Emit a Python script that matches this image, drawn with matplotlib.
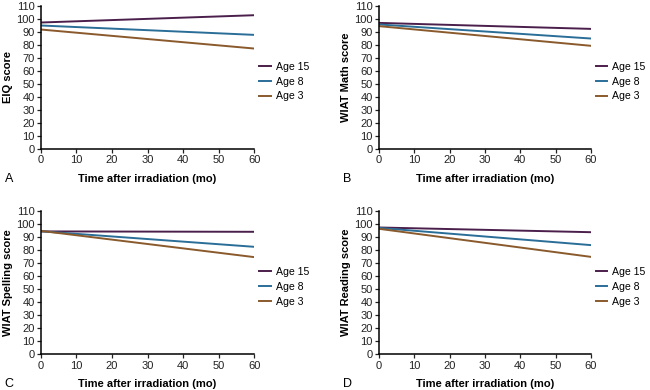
import matplotlib
matplotlib.use("Agg")
import matplotlib.pyplot as plt

plt.rcParams['font.family'] = ['Liberation Sans', 'DejaVu Sans']

months = [0, 60]
series_names = ["Age 15", "Age 8", "Age 3"]
colors = ["#4b1f4c", "#2a6e98", "#8a5a2c"]

eiq = {"Age 15": [97.2, 102.8], "Age 8": [94.9, 87.7], "Age 3": [91.8, 77.2]}
math = {"Age 15": [96.9, 92.3], "Age 8": [95.7, 84.9], "Age 3": [94.4, 79.3]}
spelling = {"Age 15": [94.2, 93.9], "Age 8": [94.3, 82.4], "Age 3": [94.6, 74.5]}
reading = {"Age 15": [97.2, 93.6], "Age 8": [96.9, 83.7], "Age 3": [96.2, 74.7]}

panels = [
    ("A", "EIQ score", eiq),
    ("B", "WIAT Math score", math),
    ("C", "WIAT Spelling score", spelling),
    ("D", "WIAT Reading score", reading),
]

x_ticks = [0, 10, 20, 30, 40, 50, 60]
y_ticks = list(range(0, 111, 10))

fig = plt.figure(figsize=(6.5, 3.9), dpi=100)
positions = [
    (0.063, 0.618, 0.328, 0.367),
    (0.583, 0.618, 0.326, 0.367),
    (0.063, 0.0915, 0.328, 0.368),
    (0.583, 0.0915, 0.326, 0.368),
]

for (letter, ylabel, data), pos in zip(panels, positions):
    ax = fig.add_axes(pos)
    for name, c in zip(series_names, colors):
        ax.plot(months, data[name], color=c, lw=1.4, label=name)
    ax.set_xlim(0, 60)
    ax.set_ylim(0, 110)
    ax.set_xticks(x_ticks)
    ax.set_yticks(y_ticks)
    for s in ["top", "right"]:
        ax.spines[s].set_visible(False)
    for s in ["left", "bottom"]:
        ax.spines[s].set_linewidth(1.1)
    ax.tick_params(axis="both", labelsize=8, length=3, width=0.9, pad=1.5, colors="#222222")
    ax.set_ylabel(ylabel, fontsize=8, fontweight="bold", labelpad=2)
    ax.set_xlabel("Time after irradiation (mo)", fontsize=8, fontweight="bold", labelpad=6)
    ax.text(-0.17, -0.21, letter, transform=ax.transAxes, fontsize=9, va="center", ha="left")
    ax.legend(loc="center left", bbox_to_anchor=(1.0, 0.47), frameon=False, fontsize=7.6,
              handlelength=1.1, handletextpad=0.5, labelspacing=0.45, borderaxespad=0.25,
              borderpad=0.2)

fig.savefig("out.png", dpi=100)
